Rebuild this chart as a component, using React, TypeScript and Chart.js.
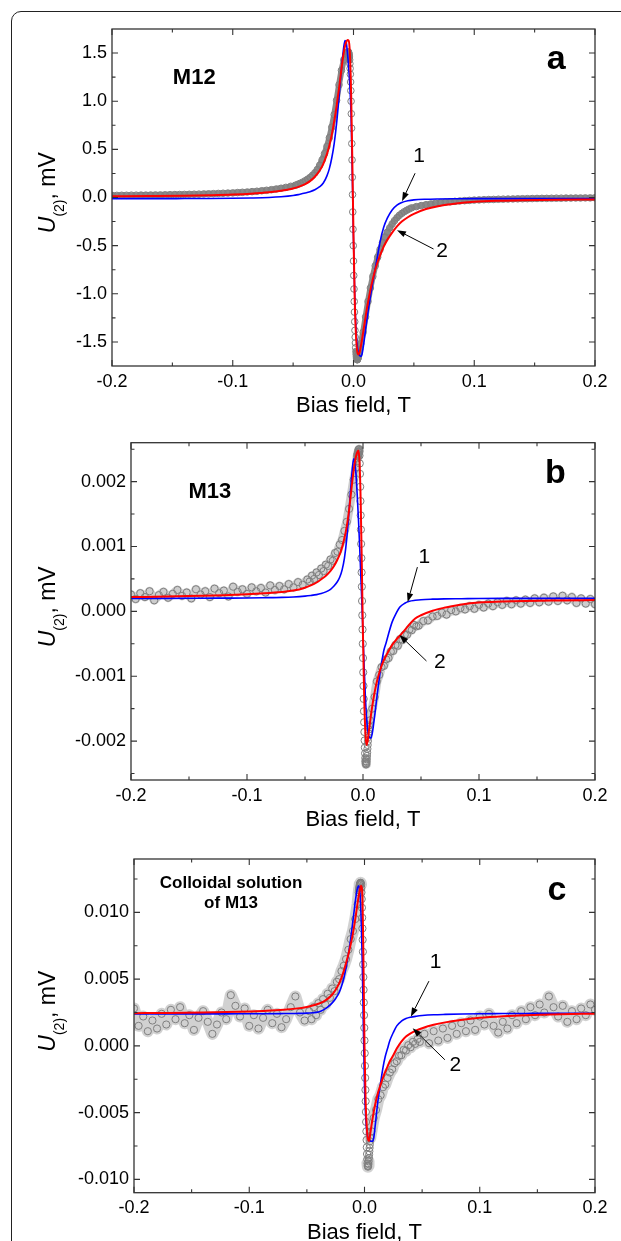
import React, { useEffect, useRef } from 'react';
import { Chart, registerables } from 'chart.js';

Chart.register(...registerables);

const FONT = "'Liberation Sans', Arial, Helvetica, sans-serif";

// ---- measured points: bias field (T), shared by all panels ----
const DATA_X = [
  -0.2, -0.196, -0.192, -0.188, -0.184, -0.18, -0.176, -0.172, -0.168, -0.164, -0.16, -0.156, -0.152,
  -0.148, -0.144, -0.14, -0.136, -0.132, -0.128, -0.124, -0.12, -0.116, -0.112, -0.108, -0.104, -0.1,
  -0.096, -0.092, -0.088, -0.084, -0.08, -0.076, -0.072, -0.068, -0.064, -0.06, -0.056, -0.052, -0.048,
  -0.046, -0.044, -0.042, -0.04, -0.038, -0.036, -0.034, -0.032, -0.03, -0.028, -0.026, -0.024, -0.022,
  -0.02, -0.018, -0.016, -0.014, -0.012, -0.01, -0.008, -0.006,
  -0.005, -0.0048, -0.0046, -0.0044, -0.0042, -0.004, -0.0038, -0.0036, -0.0034, -0.0032, -0.003,
  -0.0028, -0.0026, -0.0024, -0.0022, -0.002, -0.0018, -0.0016, -0.0014, -0.0012, -0.001, -0.0008,
  -0.0006, -0.0004, -0.0002, 0, 0.0002, 0.0004, 0.0006, 0.0008, 0.001, 0.0012, 0.0014, 0.0016, 0.0018,
  0.002, 0.0022, 0.0024, 0.0026, 0.0028, 0.003, 0.0032, 0.0034, 0.0036, 0.0038, 0.004, 0.0042, 0.0044,
  0.0046, 0.0048, 0.005,
  0.006, 0.008, 0.01, 0.012, 0.014, 0.016, 0.018, 0.02, 0.022, 0.024, 0.026, 0.028, 0.03, 0.032, 0.034,
  0.036, 0.038, 0.04, 0.042, 0.044, 0.046,
  0.048, 0.052, 0.056, 0.06, 0.064, 0.068, 0.072, 0.076, 0.08, 0.084, 0.088, 0.092, 0.096, 0.1, 0.104,
  0.108, 0.112, 0.116, 0.12, 0.124, 0.128, 0.132, 0.136, 0.14, 0.144, 0.148, 0.152, 0.156, 0.16, 0.164,
  0.168, 0.172, 0.176, 0.18, 0.184, 0.188, 0.192, 0.196, 0.2,
];

// measured U(2), mV  — panel a (M12)
const DATA_A = [
  0.022, 0.022, 0.023, 0.023, 0.024, 0.024, 0.025, 0.025, 0.026, 0.027, 0.027, 0.028, 0.029, 0.03, 0.031,
  0.032, 0.033, 0.034, 0.035, 0.037, 0.038, 0.04, 0.042, 0.044, 0.046, 0.048, 0.051, 0.054, 0.057, 0.061,
  0.065, 0.07, 0.075, 0.081, 0.088, 0.096, 0.105, 0.116, 0.128,
  0.138, 0.148, 0.16, 0.174, 0.19, 0.208, 0.23, 0.256, 0.29, 0.335, 0.39, 0.455, 0.53, 0.62, 0.73, 0.86,
  1.01, 1.17, 1.32, 1.43, 1.49,
  1.5, 1.505, 1.51, 1.512, 1.51, 1.505, 1.495, 1.48, 1.46, 1.43, 1.39, 1.34, 1.28, 1.2, 1.11, 1.0, 0.87,
  0.72, 0.56, 0.39, 0.21, 0.03, -0.15, -0.33, -0.5, -0.66, -0.81, -0.95, -1.08, -1.19, -1.29, -1.38,
  -1.45, -1.51, -1.56, -1.6, -1.63, -1.655, -1.67, -1.68, -1.685, -1.685, -1.68, -1.672, -1.662, -1.65,
  -1.637, -1.623, -1.608, -1.592, -1.575,
  -1.52, -1.4, -1.24, -1.08, -0.94, -0.82, -0.71, -0.62, -0.54, -0.47, -0.41, -0.36, -0.315, -0.275,
  -0.24, -0.21, -0.185, -0.165, -0.148, -0.133, -0.12,
  -0.108, -0.095, -0.084, -0.075, -0.067, -0.06, -0.054, -0.049, -0.044, -0.04, -0.036, -0.033, -0.03,
  -0.027, -0.025, -0.023, -0.021, -0.02, -0.018, -0.017, -0.016, -0.015, -0.014, -0.013, -0.012, -0.011,
  -0.01, -0.009, -0.009, -0.008, -0.007, -0.007, -0.006, -0.006, -0.005, -0.005, -0.004, -0.004, -0.003,
];

// measured U(2), mV  — panel b (M13)
const DATA_B = [
  0.00026, 0.00019, 0.00028, 0.00022, 0.00031, 0.00017, 0.00025, 0.0003, 0.00021, 0.00027, 0.00033,
  0.00024, 0.00029, 0.0002, 0.00034, 0.00026, 0.00031, 0.00022, 0.00035, 0.00028, 0.00032, 0.00023,
  0.00038, 0.0003, 0.00034, 0.00027, 0.00037, 0.00031, 0.00036, 0.00029, 0.0004, 0.00033, 0.00039,
  0.00034, 0.00042, 0.00037, 0.00045, 0.00041, 0.00049,
  0.00046, 0.00055, 0.0005, 0.0006, 0.00056, 0.00066, 0.00062, 0.00072, 0.0007, 0.0008, 0.00078, 0.0009,
  0.00092, 0.00103, 0.0011, 0.00124, 0.00138, 0.00158, 0.0018, 0.00203, 0.00222,
  0.0024, 0.00236, 0.00243, 0.00239, 0.00246, 0.00242, 0.00249, 0.00245, 0.0025, 0.00247, 0.0024,
  0.00228, 0.00212, 0.00192, 0.0017, 0.00148, 0.00126, 0.00104, 0.00082, 0.0006, 0.00038, 0.00016,
  -0.00006, -0.00028, -0.0005, -0.00072, -0.00094, -0.00115, -0.00135, -0.00154, -0.00171, -0.00186,
  -0.00199, -0.0021, -0.00219, -0.00226, -0.00231, -0.00234, -0.00236, -0.00235, -0.00232, -0.00228,
  -0.00223, -0.00218, -0.00212, -0.00206, -0.002, -0.00194, -0.00188, -0.00182, -0.00176,
  -0.00168, -0.0015, -0.00132, -0.00108, -0.00098, -0.00086, -0.00084, -0.00074, -0.00072, -0.00062,
  -0.00061, -0.00052, -0.00053, -0.00043, -0.00044, -0.00036, -0.00036, -0.00028, -0.00029, -0.00021,
  -0.00023,
  -0.00022, -0.00015, -0.00014, -0.00008, -0.00007, -0.00002, -0.00005, 0.00002, 0.0, 0.00005, 0.00003,
  0.00008, 0.00004, 0.0001, 0.00006, 0.00012, 0.00008, 0.00014, 0.0001, 0.00016, 0.00011, 0.00017,
  0.00012, 0.00018, 0.00013, 0.0002, 0.00014, 0.00021, 0.00015, 0.00023, 0.00016, 0.00024, 0.00017,
  0.00022, 0.00013, 0.0002, 0.00012, 0.00019, 0.00011,
];

// measured U(2), mV  — panel c (colloidal solution of M13)
const DATA_C = [
  0.0028, 0.0015, 0.0022, 0.0011, 0.0019, 0.0013, 0.0024, 0.0016, 0.0027, 0.002, 0.0029, 0.0017, 0.0023,
  0.0012, 0.0021, 0.0026, 0.0018, 0.0009, 0.0016, 0.0025, 0.002, 0.0038, 0.003, 0.0022, 0.0028, 0.0015,
  0.0023, 0.0013, 0.0021, 0.0027, 0.0017, 0.0024, 0.0014, 0.002, 0.0029, 0.0037, 0.0025, 0.0019, 0.0026,
  0.002, 0.0029, 0.0023, 0.0032, 0.0027, 0.0035, 0.0031, 0.0039, 0.0036, 0.0043, 0.0041, 0.0048, 0.005,
  0.0056, 0.006, 0.0065, 0.0072, 0.008, 0.0086, 0.0095, 0.0106,
  0.0115, 0.01165, 0.0118, 0.0119, 0.012, 0.0121, 0.01215, 0.0122, 0.01222, 0.0122, 0.0121, 0.01185,
  0.0115, 0.011, 0.01035, 0.0096, 0.0088, 0.00795, 0.00705, 0.0061, 0.00515, 0.0042, 0.00325, 0.0023,
  0.00135, 0.0004, -0.00055, -0.0015, -0.0024, -0.0033, -0.00415, -0.00495, -0.0057, -0.0064, -0.00705,
  -0.0076, -0.0081, -0.0085, -0.0088, -0.00898, -0.00905, -0.009, -0.00885, -0.00865, -0.0084, -0.00815,
  -0.0079, -0.00765, -0.0074, -0.00715, -0.0069,
  -0.0064, -0.0054, -0.0048, -0.004, -0.0037, -0.0031, -0.0029, -0.0024, -0.002, -0.00175, -0.0013,
  -0.00115, -0.00075, -0.0007, -0.0003, -0.00035, 0.00005, -0.0001, 0.0003, 0.00015, 0.0005,
  0.0003, 0.0009, 0.0002, 0.0011, 0.0004, 0.0013, 0.0006, 0.0015, 0.0009, 0.0017, 0.0011, 0.0019, 0.0012,
  0.0022, 0.0016, 0.0024, 0.0015, 0.001, 0.0018, 0.0013, 0.0023, 0.0017, 0.0026, 0.002, 0.0029, 0.0023,
  0.0031, 0.0025, 0.0037, 0.0029, 0.0022, 0.003, 0.0018, 0.0026, 0.002, 0.0028, 0.0023, 0.0031, 0.0027,
];

// ---- fitted curves: bias field (T), shared by all six curves ----
const CURVE_X = [
  -0.2, -0.17, -0.14, -0.12, -0.1, -0.085, -0.07, -0.06, -0.05, -0.045, -0.04, -0.036, -0.032, -0.028,
  -0.025, -0.022, -0.02, -0.018, -0.016, -0.014, -0.012, -0.011, -0.01, -0.009, -0.008, -0.007, -0.006,
  -0.005, -0.004, -0.003, -0.002, -0.001, 0, 0.001, 0.002, 0.003, 0.004, 0.005, 0.006, 0.007, 0.008,
  0.009, 0.01, 0.011, 0.012, 0.014, 0.016, 0.018, 0.02, 0.022, 0.025, 0.028, 0.032, 0.036, 0.04, 0.045,
  0.05, 0.06, 0.07, 0.085, 0.1, 0.12, 0.14, 0.17, 0.2,
];

// curve 1 (blue) and curve 2 (red), panel a
const BLUE_A = [
  -0.012, -0.012, -0.011, -0.01, -0.008, -0.005, 0.0, 0.007, 0.02, 0.032, 0.046, 0.06, 0.08, 0.112, 0.15,
  0.225, 0.3, 0.41, 0.56, 0.77, 1.04, 1.19, 1.33, 1.46, 1.57, 1.63, 1.61, 1.5, 1.35, 1.15, 0.85, 0.25,
  -0.45, -1.0, -1.35, -1.53, -1.61, -1.64, -1.65, -1.63, -1.56, -1.47, -1.37, -1.28, -1.19, -1.03, -0.88,
  -0.74, -0.6, -0.46, -0.31, -0.215, -0.13, -0.08, -0.052, -0.034, -0.025, -0.018, -0.015, -0.013,
  -0.012, -0.012, -0.012, -0.012, -0.012,
];
const RED_A = [
  0.012, 0.015, 0.019, 0.024, 0.031, 0.04, 0.054, 0.069, 0.094, 0.113, 0.14, 0.17, 0.215, 0.28, 0.35,
  0.45, 0.54, 0.65, 0.79, 0.95, 1.13, 1.23, 1.33, 1.43, 1.51, 1.575, 1.615, 1.635, 1.63, 1.5, 1.1, 0.4,
  -0.4, -1.05, -1.42, -1.59, -1.63, -1.61, -1.55, -1.48, -1.4, -1.32, -1.24, -1.16, -1.09, -0.96, -0.85,
  -0.75, -0.67, -0.6, -0.51, -0.44, -0.365, -0.3, -0.25, -0.205, -0.17, -0.12, -0.09, -0.062, -0.045,
  -0.034, -0.028, -0.023, -0.02,
];

// curve 1 (blue) and curve 2 (red), panel b
const BLUE_B = [
  0.0002, 0.0002, 0.000202, 0.000204, 0.000206, 0.00021, 0.000215, 0.000222, 0.000235, 0.000245,
  0.000258, 0.000275, 0.0003, 0.00034, 0.00039, 0.00046, 0.00053, 0.00064, 0.00082, 0.00112, 0.00155,
  0.0018, 0.00203, 0.00223, 0.00235, 0.0023, 0.0021, 0.0018, 0.00145, 0.00105, 0.0006, 0.00015,
  -0.00035, -0.00085, -0.0013, -0.00162, -0.00182, -0.00192, -0.00195, -0.00195, -0.00188, -0.00176,
  -0.00162, -0.00147, -0.00132, -0.00104, -0.0008, -0.0006, -0.00048, -0.00035, -0.00017, -0.00005,
  0.00007, 0.000125, 0.000155, 0.00017, 0.00018, 0.000188, 0.000192, 0.000195, 0.000198, 0.0002, 0.0002,
  0.0002, 0.0002,
];
const RED_B = [
  0.00022, 0.000228, 0.00024, 0.00025, 0.000265, 0.00028, 0.0003, 0.00032, 0.000365, 0.0004, 0.000445,
  0.000495, 0.00055, 0.000625, 0.0007, 0.0008, 0.00088, 0.00099, 0.00113, 0.00131, 0.00156, 0.00172,
  0.00188, 0.00204, 0.00218, 0.0023, 0.00239, 0.00245, 0.00248, 0.0023, 0.0017, 0.0007, -0.0004,
  -0.0013, -0.00185, -0.00206, -0.002, -0.00186, -0.00172, -0.00158, -0.00146, -0.00135, -0.00125,
  -0.00116, -0.00108, -0.00095, -0.00084, -0.00075, -0.00068, -0.00061, -0.00052, -0.00045, -0.00037,
  -0.00029, -0.0002, -0.00011, -0.00006, 0.00001, 0.000055, 0.000105, 0.000135, 0.00015, 0.00016,
  0.000168, 0.000174,
];

// curve 1 (blue) and curve 2 (red), panel c
const BLUE_C = [
  0.0024, 0.0024, 0.0024, 0.0024, 0.00241, 0.00241, 0.00242, 0.00243, 0.00245, 0.00248, 0.00254,
  0.00268, 0.0029, 0.00322, 0.00355, 0.004, 0.00445, 0.00505, 0.00585, 0.00685, 0.008, 0.0087, 0.0094,
  0.0101, 0.0108, 0.0114, 0.01185, 0.012, 0.0115, 0.0098, 0.0065, 0.0015, -0.003, -0.0053, -0.0064,
  -0.0069, -0.00705, -0.00712, -0.00715, -0.00715, -0.0069, -0.0062, -0.0054, -0.0046, -0.0039,
  -0.00275, -0.00165, -0.0008, -0.0002, 0.0004, 0.001, 0.0015, 0.00185, 0.00205, 0.00215, 0.00222,
  0.00227, 0.00233, 0.00236, 0.00239, 0.00241, 0.00242, 0.00243, 0.00244, 0.00244,
];
const RED_C = [
  0.00245, 0.00247, 0.0025, 0.00253, 0.00258, 0.00263, 0.00271, 0.00279, 0.00292, 0.00302, 0.00316,
  0.0033, 0.00352, 0.00385, 0.0042, 0.00468, 0.0051, 0.0056, 0.0062, 0.00685, 0.0076, 0.008, 0.00845,
  0.00895, 0.0095, 0.0101, 0.0107, 0.01125, 0.0117, 0.012, 0.0116, 0.007, 0.0, -0.0042, -0.0061, -0.007,
  -0.00712, -0.0066, -0.006, -0.00545, -0.00495, -0.0045, -0.0041, -0.00375, -0.00343, -0.0029,
  -0.0024, -0.00195, -0.00155, -0.00115, -0.0007, -0.0002, 0.00032, 0.0007, 0.00094, 0.00115, 0.00132,
  0.00158, 0.00176, 0.00196, 0.0021, 0.00222, 0.0023, 0.00237, 0.00241,
];

// ---- ticks ----
const X_TICKS = [-0.2, -0.1, 0, 0.1, 0.2];
const X_TICK_LABELS = ['-0.2', '-0.1', '0.0', '0.1', '0.2'];
const Y_TICKS_A = [-1.5, -1.0, -0.5, 0, 0.5, 1.0, 1.5];
const Y_TICK_LABELS_A = ['-1.5', '-1.0', '-0.5', '0.0', '0.5', '1.0', '1.5'];
const Y_TICKS_B = [-0.002, -0.001, 0, 0.001, 0.002];
const Y_TICK_LABELS_B = ['-0.002', '-0.001', '0.000', '0.001', '0.002'];
const Y_TICKS_C = [-0.01, -0.005, 0, 0.005, 0.01];
const Y_TICK_LABELS_C = ['-0.010', '-0.005', '0.000', '0.005', '0.010'];

// ---- panel layout (page pixels) and annotations (data units) ----
const PANELS = [
  {
    key: 'a', top: 0, height: 420, left: 112, right: 595, plotTop: 29, plotBottom: 366,
    yMin: -1.75, yMax: 1.75, data: DATA_A, blue: BLUE_A, red: RED_A,
    yTicks: Y_TICKS_A, yLabels: Y_TICK_LABELS_A, bandWidth: 6, bandColor: '#8a8a8a', pointR: 3.3,
    letter: 'a', letterAt: [0.1678, 1.338],
    names: [{ text: 'M12', x: -0.1496, y: 1.183, align: 'left', size: 22 }],
    nums: [{ text: '1', x: 0.0543, y: 0.365 }, { text: '2', x: 0.0733, y: -0.618 }],
    arrows: [[0.051, 0.252, 0.0402, -0.038], [0.0663, -0.535, 0.036, -0.339]],
    yLabelAt: 0.05,
  },
  {
    key: 'b', top: 420, height: 410, left: 131, right: 595, plotTop: 442.7, plotBottom: 780,
    yMin: -0.0026, yMax: 0.0026, data: DATA_B, blue: BLUE_B, red: RED_B,
    yTicks: Y_TICKS_B, yLabels: Y_TICK_LABELS_B, bandWidth: 9, bandColor: 'rgba(135,135,135,0.42)', pointR: 3.6,
    letter: 'b', letterAt: [0.1659, 0.001974],
    names: [{ text: 'M13', x: -0.1505, y: 0.001743, align: 'left', size: 22 }],
    nums: [{ text: '1', x: 0.0529, y: 0.000743 }, { text: '2', x: 0.0663, y: -0.000872 }],
    arrows: [[0.0469, 0.000682, 0.0385, 0.000143], [0.0547, -0.000765, 0.0314, -0.000365]],
    yLabelAt: 0.00007,
  },
  {
    key: 'c', top: 830, height: 411, left: 134, right: 595, plotTop: 859, plotBottom: 1192.7,
    yMin: -0.011, yMax: 0.014, data: DATA_C, blue: BLUE_C, red: RED_C,
    yTicks: Y_TICKS_C, yLabels: Y_TICK_LABELS_C, bandWidth: 12, bandColor: 'rgba(135,135,135,0.38)', pointR: 3.6,
    letter: 'c', letterAt: [0.1669, 0.0109],
    names: [
      { text: 'Colloidal solution', x: -0.1158, y: 0.01179, align: 'center', size: 17 },
      { text: 'of M13', x: -0.1158, y: 0.0103, align: 'center', size: 17 },
    ],
    nums: [{ text: '1', x: 0.0617, y: 0.00582 }, { text: '2', x: 0.0788, y: -0.00187 }],
    arrows: [[0.0559, 0.00485, 0.0402, 0.00219], [0.0697, -0.00104, 0.0418, 0.00132]],
    yLabelAt: 0.0026,
  },
];

function minorTicks(t: number[], lo: number, hi: number) {
  const out: number[] = [];
  const st = t[1] - t[0];
  for (let i = 0; i < t.length - 1; i++) out.push((t[i] + t[i + 1]) / 2);
  if (t[0] - st / 2 > lo) out.push(t[0] - st / 2);
  if (t[t.length - 1] + st / 2 < hi) out.push(t[t.length - 1] + st / 2);
  return out;
}

const decorPlugin = {
  id: 'decor',
  afterDatasetsDraw(chart: any, _args: any, o: any) {
    const { ctx, chartArea: ca } = chart;
    const xs = chart.scales.x;
    const ys = chart.scales.y;
    const X = (v: number) => xs.getPixelForValue(v);
    const Y = (v: number) => ys.getPixelForValue(v);
    ctx.save();
    // frame
    ctx.strokeStyle = '#333';
    ctx.lineWidth = 1.3;
    ctx.strokeRect(ca.left, ca.top, ca.right - ca.left, ca.bottom - ca.top);
    // inward ticks on all four sides
    ctx.lineWidth = 1.1;
    ctx.beginPath();
    const xt = (v: number, L: number) => {
      const px = X(v);
      ctx.moveTo(px, ca.bottom); ctx.lineTo(px, ca.bottom - L);
      ctx.moveTo(px, ca.top); ctx.lineTo(px, ca.top + L);
    };
    const yt = (v: number, L: number) => {
      const py = Y(v);
      ctx.moveTo(ca.left, py); ctx.lineTo(ca.left + L, py);
      ctx.moveTo(ca.right, py); ctx.lineTo(ca.right - L, py);
    };
    X_TICKS.forEach((v) => xt(v, 6));
    minorTicks(X_TICKS, xs.min, xs.max).forEach((v) => xt(v, 3.5));
    o.yTicks.forEach((v: number) => yt(v, 6));
    minorTicks(o.yTicks, ys.min, ys.max).forEach((v) => yt(v, 3.5));
    ctx.stroke();

    // texts
    ctx.fillStyle = '#000';
    ctx.textBaseline = 'alphabetic';
    ctx.font = `bold 34px ${FONT}`;
    ctx.textAlign = 'center';
    ctx.fillText(o.letter, X(o.letterAt[0]), Y(o.letterAt[1]));
    o.names.forEach((n: any) => {
      ctx.font = `bold ${n.size}px ${FONT}`;
      ctx.textAlign = n.align;
      ctx.fillText(n.text, X(n.x), Y(n.y));
    });
    ctx.font = `21px ${FONT}`;
    ctx.textAlign = 'center';
    o.nums.forEach((n: any) => ctx.fillText(n.text, X(n.x), Y(n.y)));

    // arrows
    ctx.strokeStyle = '#000';
    ctx.lineWidth = 1;
    o.arrows.forEach((a: number[]) => {
      const ax = X(a[0]), ay = Y(a[1]), bx = X(a[2]), by = Y(a[3]);
      const ang = Math.atan2(by - ay, bx - ax);
      const hl = 9, hw = 3.2;
      const baseX = bx - hl * Math.cos(ang), baseY = by - hl * Math.sin(ang);
      ctx.beginPath(); ctx.moveTo(ax, ay); ctx.lineTo(baseX, baseY); ctx.stroke();
      ctx.beginPath();
      ctx.moveTo(bx, by);
      ctx.lineTo(baseX + hw * Math.sin(ang), baseY - hw * Math.cos(ang));
      ctx.lineTo(baseX - hw * Math.sin(ang), baseY + hw * Math.cos(ang));
      ctx.closePath(); ctx.fill();
    });

    // x title
    ctx.font = `22px ${FONT}`;
    ctx.textAlign = 'center';
    ctx.fillText('Bias field, T', (ca.left + ca.right) / 2, ca.bottom + 46);

    // y title: U(2), mV  (italic U, subscript (2))
    ctx.save();
    ctx.translate(55, Y(o.yLabelAt));
    ctx.rotate(-Math.PI / 2);
    const parts: any[] = [
      { t: 'U', f: `italic 23px ${FONT}`, dy: 0 },
      { t: '(2)', f: `14px ${FONT}`, dy: 9 },
      { t: ', mV', f: `23px ${FONT}`, dy: 0 },
    ];
    let total = 0;
    parts.forEach((p) => { ctx.font = p.f; p.w = ctx.measureText(p.t).width; total += p.w; });
    let cx = -total / 2;
    ctx.textAlign = 'left';
    parts.forEach((p) => { ctx.font = p.f; ctx.fillText(p.t, cx, p.dy); cx += p.w; });
    ctx.restore();

    ctx.restore();
  },
};

function makeConfig(p: any): any {
  const points = DATA_X.map((x, i) => ({ x, y: p.data[i] }));
  const blue = CURVE_X.map((x, i) => ({ x, y: p.blue[i] }));
  const red = CURVE_X.map((x, i) => ({ x, y: p.red[i] }));
  const tickFont = { family: FONT, size: 18 };
  return {
    type: 'scatter',
    data: {
      datasets: [
        {
          // dense measured points drawn as a band (hidden on the near-vertical jump)
          label: 'measured band', data: points, showLine: true, order: 4, pointRadius: 0,
          borderWidth: p.bandWidth, borderColor: p.bandColor, borderJoinStyle: 'round', borderCapStyle: 'round',
          segment: {
            borderColor: (c: any) => {
              const dx = Math.abs(c.p1.x - c.p0.x);
              const dy = Math.abs(c.p1.y - c.p0.y);
              return dy > 3 && dy > 12 * dx ? 'rgba(0,0,0,0)' : undefined;
            },
          },
        },
        {
          label: 'measured', data: points, showLine: false, order: 3,
          pointRadius: p.pointR, pointBorderWidth: 1, pointBorderColor: '#7f7f7f',
          pointBackgroundColor: 'rgba(255,255,255,0)',
        },
        {
          label: '1', data: blue, showLine: true, order: 2, borderColor: '#0000ff', borderWidth: 1.6,
          pointRadius: 0, cubicInterpolationMode: 'monotone',
        },
        {
          label: '2', data: red, showLine: true, order: 1, borderColor: '#ff0000', borderWidth: 2,
          pointRadius: 0, cubicInterpolationMode: 'monotone',
        },
      ],
    },
    options: {
      responsive: false,
      animation: false,
      events: [],
      layout: { padding: { left: 0, right: 621 - p.right, top: p.plotTop - p.top, bottom: 0 } },
      plugins: {
        legend: { display: false },
        tooltip: { enabled: false },
        decor: p,
      },
      scales: {
        x: {
          type: 'linear', min: -0.2, max: 0.2,
          grid: { display: false, drawTicks: false }, border: { display: false },
          afterBuildTicks: (s: any) => { s.ticks = X_TICKS.map((v) => ({ value: v })); },
          afterFit: (s: any) => { s.height = p.top + p.height - p.plotBottom; },
          ticks: {
            autoSkip: false, maxRotation: 0, padding: 5, color: '#000', font: tickFont,
            callback: (_v: any, i: number) => X_TICK_LABELS[i],
          },
        },
        y: {
          type: 'linear', min: p.yMin, max: p.yMax,
          grid: { display: false, drawTicks: false }, border: { display: false },
          afterBuildTicks: (s: any) => { s.ticks = p.yTicks.map((v: number) => ({ value: v })); },
          afterFit: (s: any) => { s.width = p.left; },
          ticks: {
            autoSkip: false, padding: 5, color: '#000', font: tickFont,
            callback: (_v: any, i: number) => p.yLabels[i],
          },
        },
      },
    },
    plugins: [decorPlugin],
  };
}

function Panel({ p }: { p: any }) {
  const ref = useRef<HTMLCanvasElement | null>(null);
  useEffect(() => {
    if (!ref.current) return;
    const chart = new Chart(ref.current, makeConfig(p));
    return () => chart.destroy();
  }, [p]);
  return (
    <canvas
      ref={ref}
      width={621}
      height={p.height}
      style={{ position: 'absolute', left: 0, top: p.top, width: 621, height: p.height, display: 'block' }}
    />
  );
}

export default function App() {
  return (
    <div style={{ position: 'fixed', left: 0, top: 0, width: 621, height: 1241, overflow: 'hidden', background: '#fff' }}>
      <div
        style={{
          position: 'absolute', left: 11, top: 11, width: 700, height: 1300,
          border: '1.5px solid #222', borderRadius: 10, boxSizing: 'border-box',
        }}
      />
      {PANELS.map((p) => <Panel key={p.key} p={p} />)}
    </div>
  );
}
